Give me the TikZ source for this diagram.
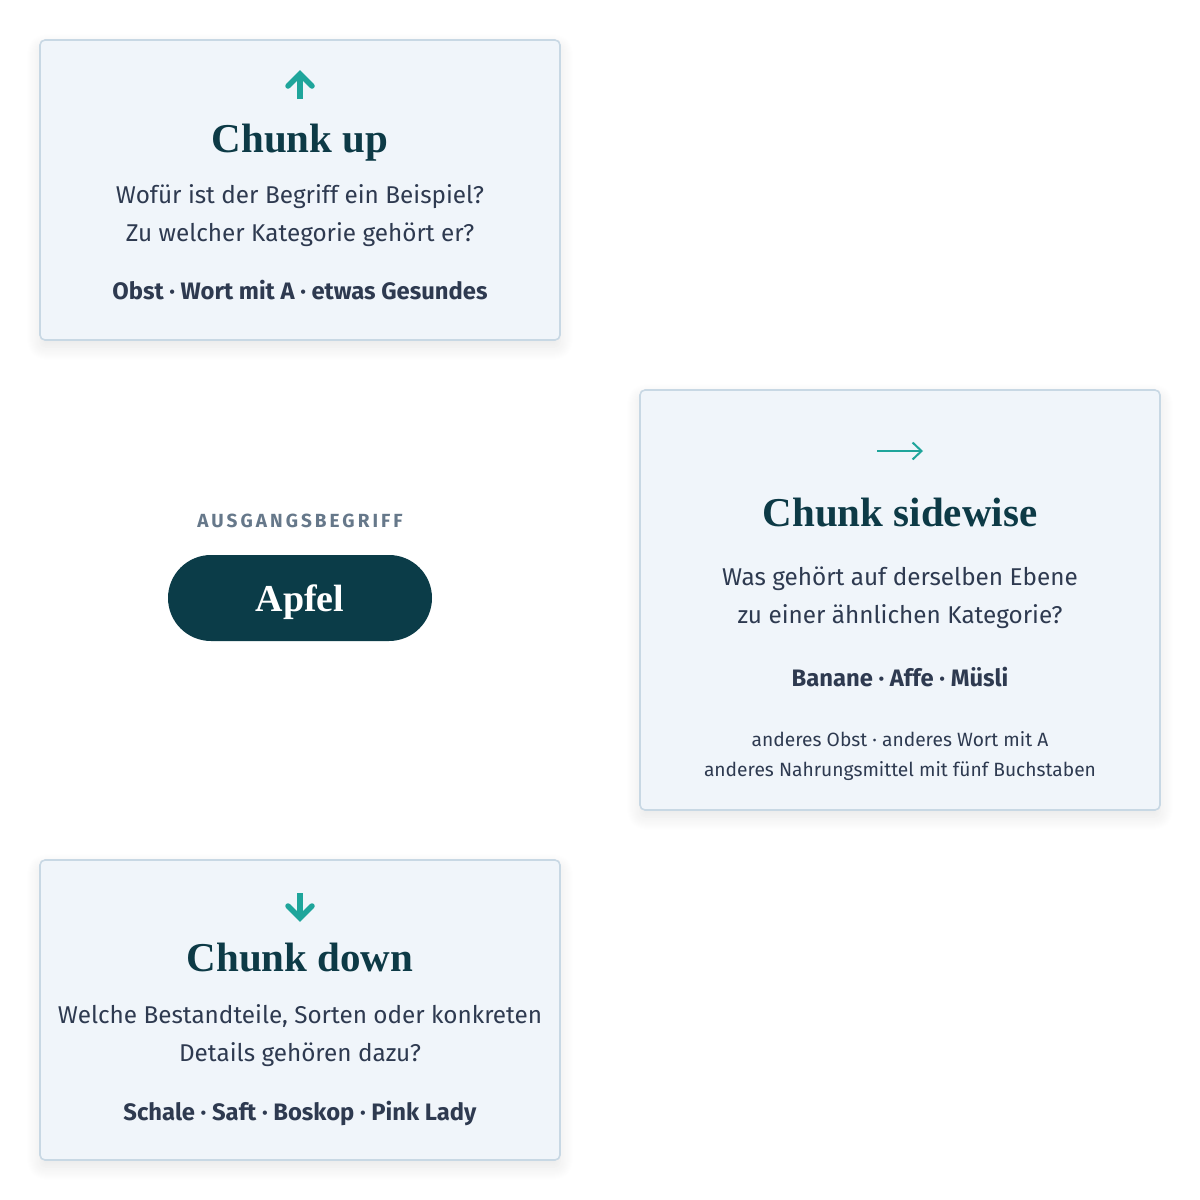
\documentclass[tikz,border=0pt]{standalone}
\usepackage{fontspec}
\setmainfont{Fira Sans}
\newfontfamily\headfont{Liberation Serif}
\newfontfamily\labelfont[LetterSpace=16]{Fira Sans}
\usepackage{tikz}
\usetikzlibrary{arrows.meta, positioning, shadows.blur}

\definecolor{cardfill}{HTML}{F0F5FA}
\definecolor{cardline}{HTML}{C8D8E4}
\definecolor{teal}{HTML}{1FA59B}
\definecolor{headcol}{HTML}{0D3A46}
\definecolor{bodycol}{HTML}{2E3A50}
\definecolor{labelcol}{HTML}{66788A}
\definecolor{pillcol}{HTML}{0B3C48}

\begin{document}
\begin{tikzpicture}[x=1pt, y=-1pt,
    card/.style={draw=cardline, fill=cardfill, line width=1.6pt, rounded corners=5pt, minimum width=520pt,
        blur shadow={shadow xshift=0pt, shadow yshift=-7pt, shadow blur radius=14pt, shadow blur steps=14, shadow opacity=10}},
    cardtitle/.style={anchor=base, text=headcol, font=\headfont\bfseries\fontsize{41}{41}\selectfont},
    question/.style={anchor=base, text=bodycol, font=\fontsize{24.3}{30}\selectfont},
    example/.style={anchor=base, text=bodycol, font=\bfseries\fontsize{23.8}{28}\selectfont},
    aside/.style={anchor=base, text=bodycol, font=\fontsize{19.2}{24}\selectfont},
    chunkarrow/.style={teal, line width=5.5pt},
    pill/.style={fill=pillcol, rounded corners=43pt, minimum width=264pt, minimum height=86pt}
]
\useasboundingbox (0,0) rectangle (1200,1200);

% Chunk up
\node[card, minimum height=300pt] (up) at (300,190) {};
\draw[chunkarrow] (300,99) -- (300,76);
\draw[chunkarrow, line cap=round, miter limit=4] (288,86) -- (300,74) -- (312,86);
\node[cardtitle] (uptitle) at (300,152) {Chunk up};
\node[question] (upq1) at (300,203) {Wofür ist der Begriff ein Beispiel?};
\node[question] (upq2) at (300,241) {Zu welcher Kategorie gehört er?};
\node[example] (upex) at (300,299) {Obst · Wort mit A · etwas Gesundes};

% Starting term
\node[anchor=base, text=labelcol, font=\labelfont\bfseries\fontsize{19}{22}\selectfont] (startlabel) at (300,527) {AUSGANGSBEGRIFF};
\node[pill] (apfel) at (300,598) {};
\node[anchor=base, text=white, font=\headfont\bfseries\fontsize{38}{38}\selectfont] (apfeltext) at (300,611) {Apfel};

% Chunk sidewise
\node[card, minimum height=420pt] (side) at (900,600) {};
\draw[teal, line width=2pt, -{Straight Barb[length=9pt, width=17pt, line width=2pt]}] (877,451) -- (923,451);
\node[cardtitle] (sidetitle) at (900,526) {Chunk sidewise};
\node[question] (sideq1) at (900,585) {Was gehört auf derselben Ebene};
\node[question] (sideq2) at (900,623) {zu einer ähnlichen Kategorie?};
\node[example] (sideex) at (900,686) {Banane · Affe · Müsli};
\node[aside] (sidea1) at (900,746) {anderes Obst · anderes Wort mit A};
\node[aside] (sidea2) at (900,776) {anderes Nahrungsmittel mit fünf Buchstaben};

% Chunk down
\node[card, minimum height=300pt] (down) at (300,1010) {};
\draw[chunkarrow] (300,893) -- (300,916);
\draw[chunkarrow, line cap=round, miter limit=4] (288,906) -- (300,918) -- (312,906);
\node[cardtitle] (downtitle) at (300,971) {Chunk down};
\node[question] (downq1) at (300,1023) {Welche Bestandteile, Sorten oder konkreten};
\node[question] (downq2) at (300,1061) {Details gehören dazu?};
\node[example] (downex) at (300,1120) {Schale · Saft · Boskop · Pink Lady};
\end{tikzpicture}
\end{document}
